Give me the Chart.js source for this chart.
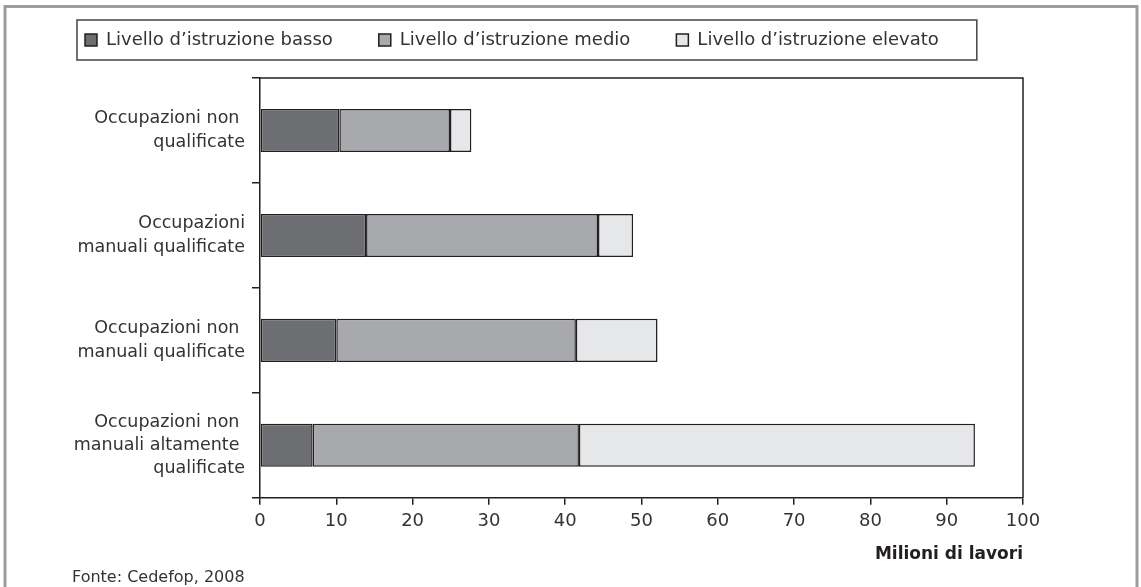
<!DOCTYPE html>
<html>
<head>
<meta charset="utf-8">
<script src="https://cdn.jsdelivr.net/npm/chart.js@4/dist/chart.umd.min.js"></script>
<style>
  html, body { margin: 0; padding: 0; background: #ffffff; }
  #wrap { width: 1141px; height: 587px; }
</style>
</head>
<body>
<div id="wrap"><canvas id="c" width="1141" height="587"></canvas></div>
<script>
// ---- data ----
const categories = [
  ["Occupazioni non ", "qualificate"],
  ["Occupazioni", "manuali qualificate"],
  ["Occupazioni non ", "manuali qualificate"],
  ["Occupazioni non ", "manuali altamente ", "qualificate"]
];
const seriesNames = ["Livello d\u2019istruzione basso", "Livello d\u2019istruzione medio", "Livello d\u2019istruzione elevato"];
const basso = [10.4, 13.9, 10.0, 6.9];
const medio = [14.5, 30.4, 31.4, 34.9];
const elevato = [2.8, 4.6, 10.7, 51.9];
const xTickValues = [0, 10, 20, 30, 40, 50, 60, 70, 80, 90, 100];
const xTitle = "Milioni di lavori";
const sourceNote = "Fonte: Cedefop, 2008";

// ---- styles ----
const INK = '#231f20';
const TEXT = '#333333';
const colors = ['#6d6e71', '#a7a9ac', '#e6e7e8'];

Chart.defaults.font.family = "'DejaVu Sans', sans-serif";
Chart.defaults.font.size = 18;
Chart.defaults.color = TEXT;

const framePlugin = {
  id: 'framePlugin',
  afterLayout(chart) {
    const lg = chart.legend;
    lg.top -= 19;
    lg.left -= 33;
  },
  beforeDraw(chart) {
    const ctx = chart.ctx;
    ctx.save();
    ctx.strokeStyle = '#9d9d9d';
    ctx.lineWidth = 3;
    ctx.strokeRect(5, 6.5, 1132, 700);
    ctx.restore();
  },
  afterDraw(chart) {
    const ctx = chart.ctx;
    const a = chart.chartArea;
    ctx.save();
    ctx.strokeStyle = INK;
    ctx.lineWidth = 1.5;
    ctx.beginPath();
    ctx.moveTo(a.left, a.top);
    ctx.lineTo(a.right, a.top);
    ctx.lineTo(a.right, a.bottom);
    ctx.stroke();
    const hb = chart.legend.legendHitBoxes;
    if (hb && hb.length) {
      const first = hb[0], last = hb[hb.length - 1];
      const cy = first.top + first.height / 2;
      const l = first.left - 8, r = last.left + last.width + 38;
      ctx.lineWidth = 1.5;
      ctx.strokeStyle = '#444';
      ctx.strokeRect(l, cy - 20, r - l, 40);
    }
    ctx.restore();
  }
};

const ds = [basso, medio, elevato].map((vals, i) => ({
  label: seriesNames[i],
  data: vals,
  backgroundColor: colors[i],
  borderColor: INK,
  borderWidth: 1.5,
  borderSkipped: false,
  categoryPercentage: 1.0,
  barPercentage: 0.41
}));

new Chart(document.getElementById('c'), {
  type: 'bar',
  data: { labels: categories, datasets: ds },
  plugins: [framePlugin],
  options: {
    indexAxis: 'y',
    responsive: false,
    animation: false,
    devicePixelRatio: 1,
    layout: { padding: { left: 72, right: 118, top: 4, bottom: 0 } },
    plugins: {
      tooltip: { enabled: false },
      legend: {
        position: 'top',
        align: 'start',
        labels: {
          boxWidth: 12,
          boxHeight: 12,
          padding: 46,
          color: TEXT,
          font: { size: 18 }
        }
      },
      subtitle: {
        display: true,
        text: sourceNote,
        position: 'bottom',
        align: 'start',
        color: TEXT,
        font: { size: 16, weight: 'normal' },
        padding: { top: 0, bottom: 0 }
      }
    },
    scales: {
      x: {
        stacked: true,
        min: 0,
        max: 100,
        afterBuildTicks: (scale) => { scale.ticks = xTickValues.map(v => ({ value: v })); },
        ticks: { padding: 6, color: TEXT, font: { size: 18 } },
        grid: { drawOnChartArea: false, drawTicks: true, tickLength: 7, color: INK, lineWidth: 1.5 },
        border: { display: true, color: INK, width: 1.5 },
        title: {
          display: true,
          text: xTitle,
          align: 'end',
          color: INK,
          font: { size: 17, weight: 'bold' },
          padding: { top: 4, bottom: 3 }
        },
        afterFit: (scale) => { scale.height = 70; }
      },
      y: {
        stacked: true,
        offset: true,
        ticks: { padding: 7, color: TEXT, font: { size: 17.5, lineHeight: 1.33 } },
        grid: { drawOnChartArea: false, drawTicks: true, tickLength: 8, color: INK, lineWidth: 1.5, offset: true },
        border: { display: true, color: INK, width: 1.5 },
        afterFit: (scale) => { scale.width = 188; }
      }
    }
  }
});
</script>
</body>
</html>
